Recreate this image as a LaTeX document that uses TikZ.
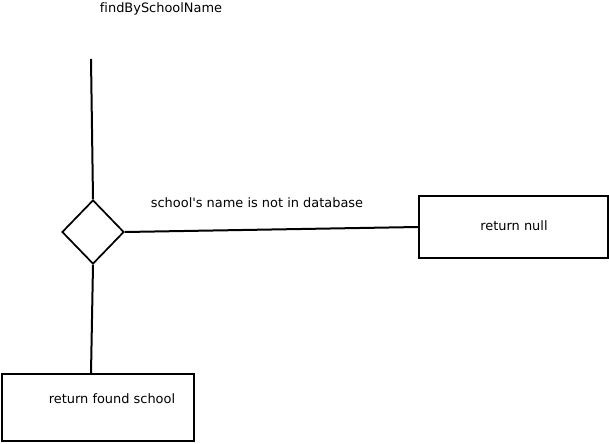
\documentclass[tikz,border=0pt]{standalone}
\usepackage{fontspec}
\setmainfont{DejaVu Sans}[Ligatures=NoCommon]
\usetikzlibrary{shapes.geometric}
\begin{document}
\begin{tikzpicture}[x=0.75pt, y=-0.75pt,
        box/.style={rectangle, draw, line width=1.5pt, minimum width=142pt, minimum height=47pt},
        decision/.style={diamond, draw, line width=1.3pt, inner sep=0pt, minimum width=46.5pt, minimum height=48pt},
        txt/.style={font=\fontsize{9.7}{11}\selectfont, inner sep=0pt},
        line/.style={line width=1.5pt}]
        \useasboundingbox (0,0) rectangle (609,443);

        % Nodes
        \node[txt] (title) at (161,9) {findBySchoolName};
        \coordinate (start) at (91,59);
        \node[decision] (check) at (93,232) {};
        \node[box] (null) at (513.5,227) {};
        \node[txt] (nulltxt) at (514,226) {return null};
        \node[box, minimum width=144pt, minimum height=50pt] (found) at (98,407.5) {};
        \node[txt] (foundtxt) at (112,399) {return found school};
        \node[txt] (cond) at (257,203) {school\textquotesingle s name is not in database};

        % Lines
        \draw[line] (start) -- (check.north);
        \draw[line] (check.east) -- (null.west);
        \draw[line] (check.south) -- (found.north -| start);
    \end{tikzpicture}
\end{document}
